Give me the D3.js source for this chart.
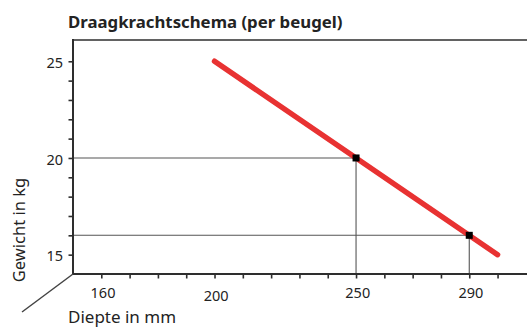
<!DOCTYPE html>
<html>
<head>
<meta charset="utf-8">
<script src="https://cdn.jsdelivr.net/npm/d3@7"></script>
<style>
  html, body { margin: 0; padding: 0; background: #fff; }
  svg { display: block; }
  text { font-family: "Noto Sans", "Open Sans", sans-serif; fill: #232323; }
</style>
</head>
<body>
<svg id="chart" width="527" height="328"></svg>
<script>
// Load line: depth (mm) against allowed weight (kg)
const lineDepth = [200, 300];
const lineWeight = [25, 15];

// Read-off examples marked on the line
const markDepth = [250, 290];
const markWeight = [20, 16];

// Labelled ticks
const depthLabels = [160, 200, 250, 290];
const weightLabels = [15, 20, 25];

const title = "Draagkrachtschema (per beugel)";
const yTitle = "Gewicht in kg";
const xTitle = "Diepte in mm";

const plotLeft = 73, plotRight = 527, plotTop = 40, plotBottom = 274;
const fontFamily = "'Noto Sans', 'Open Sans', sans-serif";

const svg = d3.select("#chart");

const x = d3.scaleLinear().domain([150, 310.4]).range([plotLeft, plotRight]);
const y = d3.scaleLinear().domain([14, 26.1]).range([plotBottom, plotTop]);

const axisColor = "#2e2e2e";

// Guide lines from the axes to each marked point
const guides = svg.append("g").attr("stroke", "#555").attr("stroke-width", 1.1);
markDepth.forEach((d, i) => {
  guides.append("line")
    .attr("x1", plotLeft).attr("x2", x(d))
    .attr("y1", y(markWeight[i])).attr("y2", y(markWeight[i]));
  guides.append("line")
    .attr("x1", x(d)).attr("x2", x(d))
    .attr("y1", y(markWeight[i])).attr("y2", plotBottom);
});

// Y axis with 1 kg ticks, labels every 5 kg
const yAxis = d3.axisLeft(y)
  .tickValues(d3.range(15, 26, 1))
  .tickSize(4.5)
  .tickFormat(d => weightLabels.includes(d) ? d : "");
const gy = svg.append("g").attr("transform", `translate(${plotLeft},0)`).call(yAxis);
gy.select(".domain").remove();
gy.selectAll(".tick line").attr("stroke", axisColor).attr("stroke-width", 1.6);
gy.selectAll(".tick text").attr("font-size", 14.5).attr("x", -10).attr("y", 1.5)
  .attr("font-family", fontFamily).attr("fill", "#232323");

// X axis with 10 mm ticks, a few labelled depths
const xAxis = d3.axisBottom(x)
  .tickValues(d3.range(160, 310, 10))
  .tickSize(4.5)
  .tickFormat(d => depthLabels.includes(d) ? d : "");
const gx = svg.append("g").attr("transform", `translate(0,${plotBottom})`).call(xAxis);
gx.select(".domain").remove();
gx.selectAll(".tick line").attr("stroke", axisColor).attr("stroke-width", 1.6);
gx.selectAll(".tick text").attr("font-size", 14.5).attr("y", 13.7).attr("dx", 1.2)
  .attr("font-family", fontFamily).attr("fill", "#232323");
gx.selectAll(".tick").filter(d => d === 200).select("text").attr("y", 16.4);

// Frame lines: left, bottom, top
svg.append("line").attr("x1", plotLeft).attr("x2", plotLeft).attr("y1", plotTop - 1).attr("y2", plotBottom)
  .attr("stroke", axisColor).attr("stroke-width", 2);
svg.append("line").attr("x1", plotLeft - 1).attr("x2", plotRight).attr("y1", plotBottom).attr("y2", plotBottom)
  .attr("stroke", axisColor).attr("stroke-width", 2);
svg.append("line").attr("x1", plotLeft - 1).attr("x2", plotRight).attr("y1", plotTop).attr("y2", plotTop)
  .attr("stroke", axisColor).attr("stroke-width", 1.6);
// Depth direction stroke from the origin
svg.append("line").attr("x1", plotLeft).attr("y1", plotBottom).attr("x2", 22).attr("y2", 312)
  .attr("stroke", "#444").attr("stroke-width", 1.5);

// Load line
svg.append("path")
  .datum(lineDepth.map((d, i) => [d, lineWeight[i]]))
  .attr("d", d3.line().x(d => x(d[0])).y(d => y(d[1])))
  .attr("fill", "none")
  .attr("stroke", "#e83232")
  .attr("stroke-width", 5.5)
  .attr("stroke-linecap", "round");

// Marked points
svg.append("g").selectAll("rect")
  .data(markDepth.map((d, i) => [d, markWeight[i]]))
  .join("rect")
  .attr("x", d => x(d[0]) - 3.5)
  .attr("y", d => y(d[1]) - 3.5)
  .attr("width", 7).attr("height", 7)
  .attr("fill", "#000");

// Titles
svg.append("text").attr("x", 68).attr("y", 28.3)
  .attr("font-size", 16.8).attr("font-weight", 700).text(title);
svg.append("text").attr("x", 68).attr("y", 323.3)
  .attr("font-size", 17).text(xTitle);
svg.append("text")
  .attr("transform", `translate(25,230) rotate(-90)`)
  .attr("text-anchor", "middle")
  .attr("font-size", 16.5).text(yTitle);
</script>
</body>
</html>
